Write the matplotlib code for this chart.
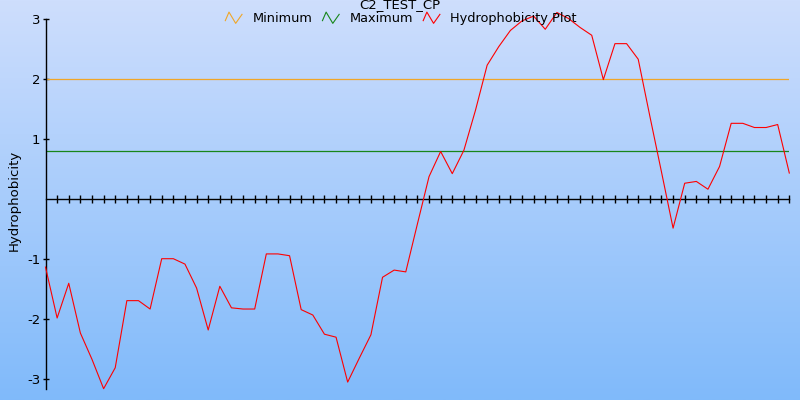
import numpy as np
import matplotlib
matplotlib.use("Agg")
import matplotlib.pyplot as plt
from matplotlib.lines import Line2D
from matplotlib.legend_handler import HandlerBase

# Hydrophobicity values, one per residue window
hydro = [-1.14, -1.99, -1.41, -2.24, -2.68, -3.17, -2.82, -1.70, -1.70, -1.84,
         -1.00, -1.00, -1.09, -1.49, -2.19, -1.46, -1.82, -1.84, -1.84, -0.92,
         -0.92, -0.95, -1.85, -1.94, -2.26, -2.31, -3.06, -2.66, -2.27, -1.31,
         -1.19, -1.22, -0.42, 0.37, 0.79, 0.42, 0.81, 1.48, 2.23, 2.54,
         2.81, 2.97, 3.05, 2.83, 3.11, 3.01, 2.86, 2.73, 1.99, 2.59,
         2.59, 2.33, 1.38, 0.45, -0.49, 0.26, 0.29, 0.16, 0.54, 1.26,
         1.26, 1.19, 1.19, 1.24, 0.43]
positions = list(range(len(hydro)))
minimum = 2.0
maximum = 0.8
y_ticks = [3, 2, 1, -1, -2, -3]
title = "C2_TEST_CP"


class HandlerZigzag(HandlerBase):
    # small zigzag icon like the original legend
    def create_artists(self, legend, orig_handle, xdescent, ydescent,
                       width, height, fontsize, trans):
        xs = np.array([0.0, 0.22, 0.62, 1.0]) * width - xdescent
        ys = np.array([0.15, 1.1, -0.15, 0.85]) * height - ydescent
        ln = Line2D(xs, ys, color=orig_handle.get_color(), lw=0.8)
        ln.set_transform(trans)
        return [ln]


plt.rcParams['font.family'] = ['DejaVu Sans']
fig = plt.figure(figsize=(8, 4), dpi=100)

# gradient background
bg = fig.add_axes([0, 0, 1, 1], zorder=0)
top = np.array([206, 222, 253]) / 255
bottom = np.array([128, 186, 250]) / 255
t = np.linspace(0, 1, 256)[:, None]
grad = top * (1 - t) + bottom * t
bg.imshow(grad[:, None, :], aspect='auto', extent=[0, 1, 0, 1])
bg.axis('off')

ax = fig.add_axes([45.5 / 800, 10.7 / 400, 743.8 / 800, 377.4 / 400], zorder=1)
ax.set_facecolor('none')
ax.set_xlim(0, 64)
ax.set_ylim(-3.18, 3.12)

l_min = ax.axhline(minimum, color='#f0a628', lw=0.9)
l_max = ax.axhline(maximum, color='#17861a', lw=0.9)
l_hyd, = ax.plot(positions, hydro, color='red', lw=0.8, clip_on=False, zorder=3)

for s in ['top', 'right']:
    ax.spines[s].set_visible(False)
ax.spines['bottom'].set_position(('data', 0))
ax.spines['left'].set_bounds(-3.18, 3.0)
ax.spines['left'].set_linewidth(1.0)
ax.spines['bottom'].set_linewidth(1.0)

ax.set_xticks(positions[1:])
ax.set_xticklabels([])
ax.tick_params(axis='x', direction='inout', length=6, width=1)
ax.set_yticks(y_ticks)
ax.set_yticklabels([str(v) for v in y_ticks])
ax.tick_params(axis='y', direction='inout', length=4.5, width=1, pad=1.5,
               labelsize=9.5)

ax.set_ylabel("Hydrophobicity", fontsize=9.5)
ax.yaxis.set_label_coords(-0.033, 0.5)

fig.text(0.5, 1 - 5 / 400, title, ha='center', va='center', fontsize=9.5)
fig.legend([l_min, l_max, l_hyd], ["Minimum", "Maximum", "Hydrophobicity Plot"],
           handler_map={Line2D: HandlerZigzag()}, loc='center',
           bbox_to_anchor=(401 / 800, 1 - 18.5 / 400), ncol=3, frameon=False,
           fontsize=9.25, handlelength=1.3, handletextpad=0.8, columnspacing=0.8,
           borderpad=0, borderaxespad=0)

fig.savefig("out.png", dpi=100)
